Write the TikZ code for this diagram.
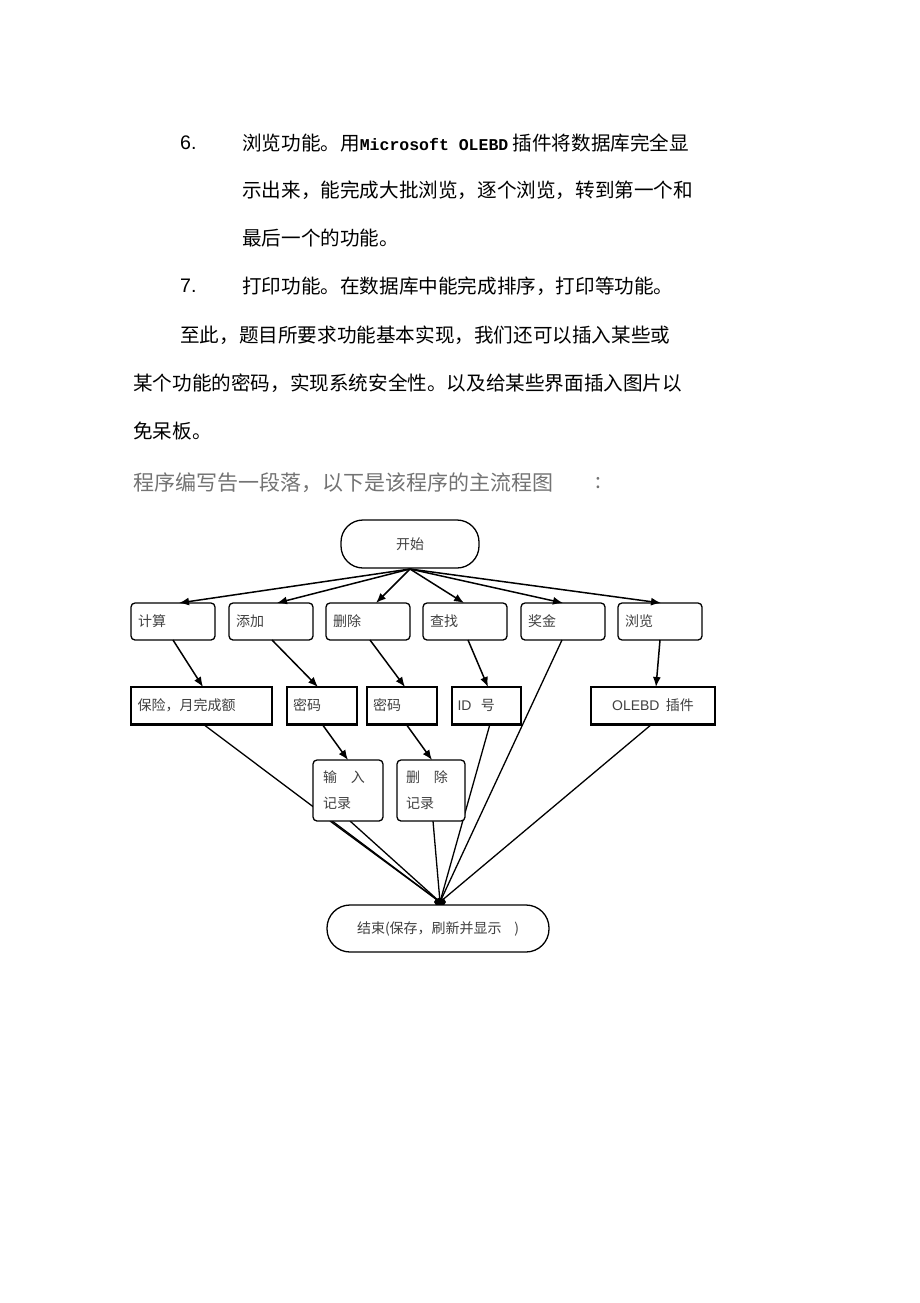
\documentclass[tikz,border=0pt]{standalone}
\usepackage{fontspec}
\setmainfont{Noto Sans CJK SC}
\newfontfamily\latin{Liberation Sans}
\newfontfamily\mono{Liberation Mono}[BoldFont={Liberation Mono Bold}]
\usetikzlibrary{arrows.meta}
\begin{document}
\begin{tikzpicture}[x=1pt,y=-1pt,
  txt/.style={anchor=west,inner sep=0,font=\fontsize{19.6}{20}\selectfont},
  rb/.style={draw,rounded corners=4pt,fill=white,line width=1.3pt,font=\fontsize{14}{14}\selectfont,text=black!75,inner sep=0},
  sb/.style={draw,fill=white,line width=1.3pt,font=\fontsize{14}{14}\selectfont,text=black!75,inner sep=0},
  ar/.style={-{Latex[length=10pt,width=8pt]},line width=1.5pt},
  ln/.style={line width=1.3pt}]
\useasboundingbox (0,0) rectangle (920,1303);
\fill[white] (0,0) rectangle (920,1303);
% text
\node[txt] (n6) at (180,143) {\latin 6.};
\node[txt] (l1) at (242,143) {浏览功能。用{\mono\bfseries\fontsize{16.5}{17}\selectfont Microsoft OLEBD} 插件将数据库完全显};
\node[txt] (l2) at (242,190) {示出来，能完成大批浏览，逐个浏览，转到第一个和};
\node[txt] (l3) at (242,238) {最后一个的功能。};
\node[txt] (n7) at (180,286) {\latin 7.};
\node[txt] (l4) at (242,286) {打印功能。在数据库中能完成排序，打印等功能。};
\node[txt] (l5) at (180,335) {至此，题目所要求功能基本实现，我们还可以插入某些或};
\node[txt] (l6) at (133,383) {某个功能的密码，实现系统安全性。以及给某些界面插入图片以};
\node[txt] (l7) at (133,431) {免呆板。};
\node[txt,text=black!55,font=\fontsize{21}{21}\selectfont] (l8) at (133,483) {程序编写告一段落，以下是该程序的主流程图};
\node[txt,text=black!55,font=\fontsize{21}{21}\selectfont] (l9) at (595,483) {:};
% coordinates
\coordinate (s) at (410,569);
\coordinate (e) at (440,902);
% nodes
\node[rb,rounded corners=22pt,minimum width=138pt,minimum height=48pt] (start) at (410,544) {开始};
\foreach \n/\x/\t in {c1/173/计算,c2/271/添加,c3/368/删除,c4/465/查找,c5/563/奖金,c6/660/浏览}{
  \node[rb,minimum width=84pt,minimum height=37pt,text width=70pt,align=left] (\n) at (\x,621.5) {\t};}
% lines to end (drawn before lower boxes)
\draw[ln] (203,724) -- (e);
\draw[ln] (330,821) -- (e);
\draw[ln] (350,821) -- (e);
\draw[ln] (433,821) -- (e);
\draw[ln] (490,724) -- (e);
\draw[ln] (562,640) -- (e);
\draw[ln] (652,724) -- (e);
\fill (e) ellipse (6pt and 4pt);
\node[sb,minimum width=141pt,minimum height=37pt,text width=128pt,align=left] (d1) at (201.5,705.5) {保险，月完成额};
\node[sb,minimum width=70pt,minimum height=37pt,text width=58pt,align=left] (d2) at (322,705.5) {密码};
\node[sb,minimum width=70pt,minimum height=37pt,text width=58pt,align=left] (d3) at (402,705.5) {密码};
\node[sb,minimum width=69pt,minimum height=37pt,text width=58pt,align=left] (d4) at (486.5,705.5) {{\latin ID}\ \ 号};
\node[sb,minimum width=124pt,minimum height=37pt] (d5) at (653,705.5) {{\latin OLEBD}\ \ 插件};
\foreach \n in {d1,d2,d3,d4,d5}{\draw[line width=2.5pt] (\n.south west) -- (\n.south east);}
\node[rb,minimum width=70pt,minimum height=61pt,text width=50pt,align=left,font=\fontsize{14}{26}\selectfont] (r1) at (348,790.5) {输\ \ \ 入\\记录};
\node[rb,minimum width=68pt,minimum height=61pt,text width=50pt,align=left,font=\fontsize{14}{26}\selectfont] (r2) at (431,790.5) {删\ \ \ 除\\记录};
\node[rb,rounded corners=23pt,minimum width=222pt,minimum height=47pt] (end) at (438,928.5) {结束(保存，刷新并显示\ \ \ \ )};
% arrows
\foreach \x in {179,277,376,464,563,661}{\draw[ar] (s) -- (\x,603);}
\draw[ar] (173,640) -- (203,687);
\draw[ar] (272,640) -- (318,687);
\draw[ar] (370,640) -- (405,687);
\draw[ar] (468,640) -- (488,687);
\draw[ar] (660,640) -- (656,687);
\draw[ar] (322,724) -- (348,760);
\draw[ar] (406,724) -- (432,760);
\end{tikzpicture}
\end{document}
